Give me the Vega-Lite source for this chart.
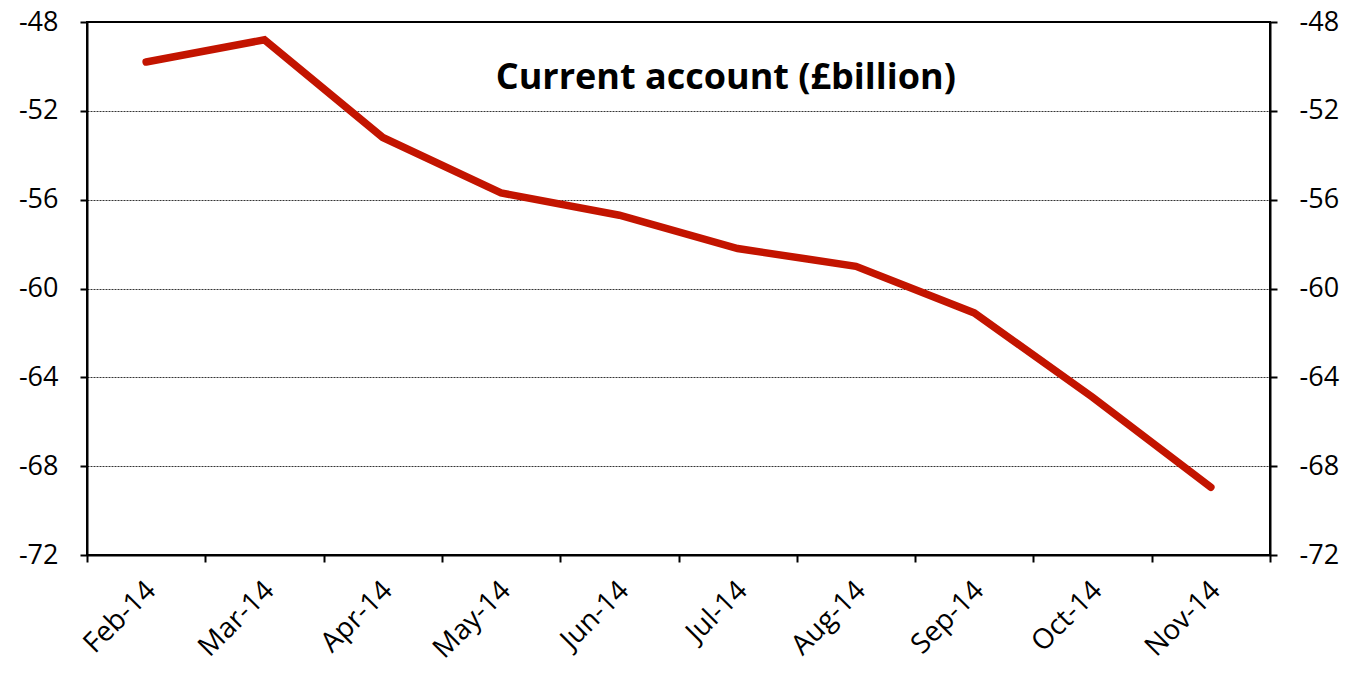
{
  "$schema": "https://vega.github.io/schema/vega-lite/v6.json",
  "autosize": {"type": "none"},
  "padding": {"left": 87, "top": 22, "right": 86, "bottom": 123},
  "width": 1183,
  "height": 533,
  "background": "white",
  "config": {
    "view": {"stroke": "black", "strokeWidth": 2},
    "font": "Open Sans",
    "axis": {
      "labelFont": "Open Sans",
      "labelColor": "black",
      "domainColor": "black",
      "domainWidth": 2,
      "tickColor": "black",
      "tickWidth": 2,
      "tickSize": 7
    }
  },
  "data": {
    "values": [
      {"month": "Feb-14", "value": -49.8},
      {"month": "Mar-14", "value": -48.8},
      {"month": "Apr-14", "value": -53.2},
      {"month": "May-14", "value": -55.7},
      {"month": "Jun-14", "value": -56.7},
      {"month": "Jul-14", "value": -58.2},
      {"month": "Aug-14", "value": -59.0},
      {"month": "Sep-14", "value": -61.1},
      {"month": "Oct-14", "value": -64.9},
      {"month": "Nov-14", "value": -68.95}
    ]
  },
  "encoding": {
    "x": {
      "field": "month",
      "type": "ordinal",
      "sort": null,
      "bandPosition": 0.5,
      "scale": {"type": "band", "paddingInner": 0, "paddingOuter": 0},
      "axis": {
        "title": null,
        "tickBand": "extent",
        "labelAngle": -45,
        "labelFontSize": 28,
        "labelPadding": 14,
        "labelOffset": -5,
        "grid": false
      }
    }
  },
  "layer": [
    {
      "mark": {"type": "line", "color": "#C31400", "strokeWidth": 7.5, "strokeCap": "round", "strokeJoin": "miter"},
      "encoding": {
        "y": {
          "field": "value",
          "type": "quantitative",
          "scale": {"domain": [-72, -48], "nice": false, "zero": false},
          "axis": {
            "title": null,
            "values": [-72, -68, -64, -60, -56, -52, -48],
            "labelExpr": "'' + datum.value",
            "labelFontSize": 27,
            "labelPadding": 22,
            "grid": true,
            "gridColor": "black",
            "gridWidth": 0.8,
            "gridDash": [2, 1]
          }
        }
      }
    },
    {
      "mark": {"type": "line", "opacity": 0},
      "encoding": {
        "y": {
          "field": "value",
          "type": "quantitative",
          "scale": {"domain": [-72, -48], "nice": false, "zero": false},
          "axis": {
            "title": null,
            "orient": "right",
            "values": [-72, -68, -64, -60, -56, -52, -48],
            "labelExpr": "'' + datum.value",
            "labelFontSize": 27,
            "labelPadding": 22,
            "grid": false
          }
        }
      }
    },
    {
      "data": {"values": [{"label": "Current account (£billion)", "m": "Jul-14", "v": -50.5}]},
      "mark": {"type": "text", "fontSize": 36, "fontWeight": "bold", "color": "black", "align": "center", "baseline": "middle"},
      "encoding": {
        "x": {"field": "m", "type": "ordinal", "bandPosition": 0.4},
        "y": {"field": "v", "type": "quantitative", "axis": null},
        "text": {"field": "label"}
      }
    }
  ],
  "resolve": {"axis": {"y": "independent"}}
}
